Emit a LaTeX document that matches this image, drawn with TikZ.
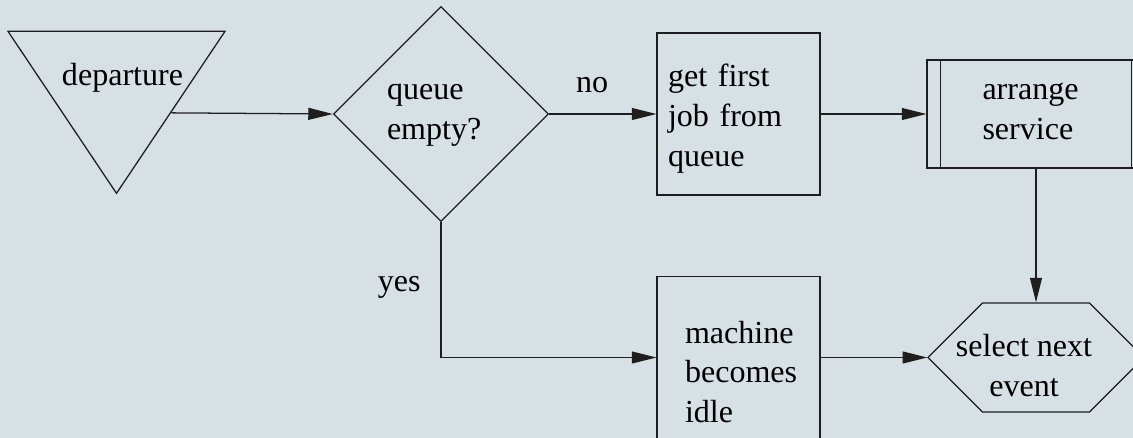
\documentclass[tikz,border=0pt]{standalone}
\usepackage{fontspec}
\setmainfont{Liberation Serif}
\usetikzlibrary{arrows.meta,positioning,shapes.geometric,shapes.symbols}
\definecolor{paper}{RGB}{214,224,229}
\definecolor{ink}{RGB}{30,30,30}
\tikzset{
  % common outline for every block
  block/.style={draw=ink, line width=0.9pt, inner sep=0pt, font=\fontsize{22.8}{28.45}\selectfont,
                text height=0pt},
  % plain process box
  procbox/.style={block, rectangle, minimum width=4.075cm, minimum height=4.05cm, align=left},
  % decision
  decision/.style={block, diamond, minimum width=5.375cm, minimum height=5.375cm, align=left},
  % subroutine box, inner rules drawn afterwards
  subbox/.style={block, rectangle, minimum width=5.45cm, minimum height=2.7cm, align=left},
  % event selector
  selector/.style={block, signal, signal to=west and east, signal pointer angle=90,
                   minimum width=5.4cm, minimum height=2.725cm},
  % entry triangle, apex down
  entry/.style={block, isosceles triangle, isosceles triangle stretches, shape border rotate=-90,
                minimum width=5.425cm, minimum height=4.05cm},
  % text placed inside a shape
  tag/.style={font=\fontsize{22.8}{28.45}\selectfont, align=center, inner sep=0pt},
  % flow line
  flow/.style={-{Triangle[length=17.5pt,width=8.5pt]}, draw=ink, line width=0.9pt},
  % branch label
  branch/.style={font=\fontsize{22.8}{28.45}\selectfont},
}
\begin{document}
\begin{tikzpicture}
  \useasboundingbox (0,0) rectangle (28.325,-10.95);
  \clip (0,0) rectangle (28.325,-10.95);
  \fill[paper] (0,0) rectangle (28.325,-10.95);

  % top row
  \node[entry, anchor=apex, label={[tag, xshift=0.15cm, yshift=0.29cm]center:departure}] (dep) at (2.9125,-4.875) {};
  \node[decision, text width=2.7cm, text depth=0.7cm] (empty) at (11.025,-2.85) {queue\\empty?};
  \node[procbox, text width=3.525cm, text depth=1.35cm] (getjob) at (18.4625,-2.85) {get first\\job from\\queue};
  \node[subbox, text width=2.675cm, text depth=0.7cm] (arrange) at (25.9,-2.85) {arrange\\service};
  \draw[ink, line width=0.9pt]
    ([xshift=0.35cm]arrange.north west) -- ([xshift=0.35cm]arrange.south west)
    ([xshift=-0.35cm]arrange.north east) -- ([xshift=-0.35cm]arrange.south east);

  % bottom row
  \node[procbox, text width=2.675cm, text depth=0.725cm] (idle) at (18.4625,-8.9375) {machine\\becomes\\idle};
  \node[selector, label={[tag, xshift=-0.3cm, yshift=-0.21cm]center:{select next\\event}}] (select) at (25.9,-8.9375) {};

  % flow
  \draw[flow] (dep.left side) -- (empty.west);
  \draw[flow] (empty) -- node[branch, pos=0.4, above=0.4cm] {no} (getjob);
  \draw[flow] (getjob) -- (arrange);
  \draw[flow] (arrange) -- (select);
  \draw[flow] (empty) |- node[branch, pos=0.24, left=0.375cm] {yes} (idle);
  \draw[flow] (idle) -- (select);
\end{tikzpicture}
\end{document}
